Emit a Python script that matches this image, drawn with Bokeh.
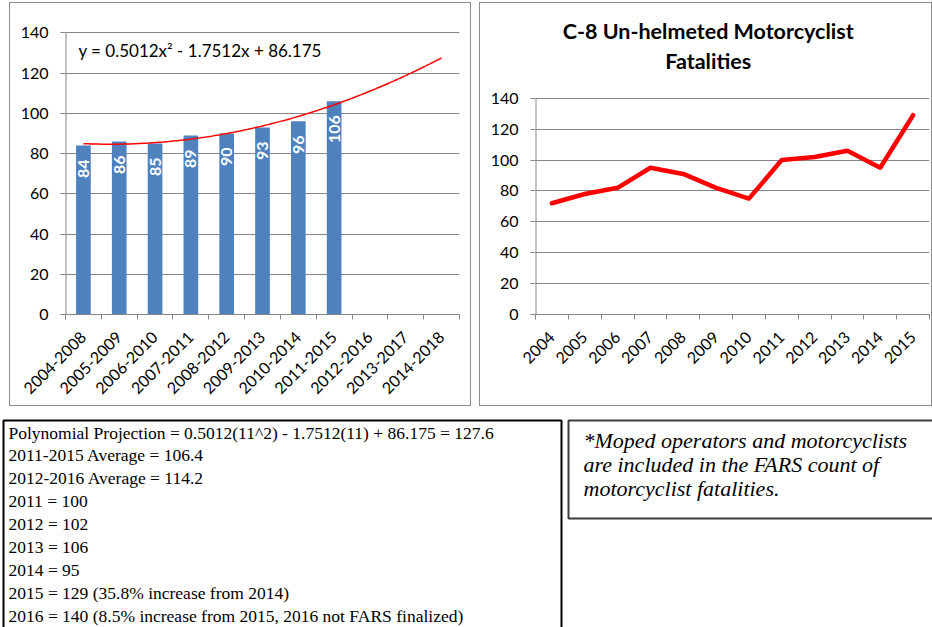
import numpy as np
from bokeh.plotting import figure
from bokeh.models import ColumnDataSource, FixedTicker, Range1d, Label
from bokeh.layouts import column, row
from bokeh.embed import file_html
from bokeh.resources import INLINE
from bokeh.core.properties import value

# ---------------- data ----------------
periods = ["2004-2008", "2005-2009", "2006-2010", "2007-2011", "2008-2012", "2009-2013",
           "2010-2014", "2011-2015", "2012-2016", "2013-2017", "2014-2018"]
period_avgs = [84, 86, 85, 89, 90, 93, 96, 106]
trend_coeffs = [0.5012, -1.7512, 86.175]          # y = a x^2 + b x + c (x = 1..11)
trend_span = [1, 11]
equation_text = "y = 0.5012x\u00b2 - 1.7512x + 86.175"

years = ["2004", "2005", "2006", "2007", "2008", "2009", "2010", "2011", "2012", "2013", "2014", "2015"]
unhelmeted = [72, 78, 82, 95, 91, 82, 75, 100, 102, 106, 95, 129]
right_title = ["C-8 Un-helmeted Motorcyclist", "Fatalities"]

y_ticks = [0, 20, 40, 60, 80, 100, 120, 140]
y_max = 140

notes_lines = [
    "Polynomial Projection = 0.5012(11^2) - 1.7512(11) + 86.175 = 127.6",
    "2011-2015 Average = 106.4",
    "2012-2016 Average = 114.2",
    "2011 = 100",
    "2012 = 102",
    "2013 = 106",
    "2014 = 95",
    "2015 = 129 (35.8% increase from 2014)",
    "2016 = 140 (8.5% increase from 2015, 2016 not FARS finalized)",
]
footnote_lines = [
    "*Moped operators and motorcyclists",
    "are included in the FARS count of",
    "motorcyclist fatalities.",
]

# ---------------- styles ----------------
FONT = "Lato"
SERIF = "Liberation Serif"
GRID = "#868686"
BORDER = "#8c8c8c"
BAR = "#4F81BD"
CHART_H = 402
FRAME_TOP = 9
FRAME_BOTTOM = 91


def style_axes(p, nx):
    p.xaxis.ticker = FixedTicker(ticks=[i + 0.5 for i in range(nx)],
                                 minor_ticks=list(range(nx + 1)))
    p.xaxis.major_tick_out = 0
    p.xaxis.major_tick_in = 0
    p.xaxis.minor_tick_out = 5
    p.xaxis.minor_tick_in = 0
    p.xaxis.minor_tick_line_color = GRID
    p.xaxis.axis_line_color = GRID
    p.xaxis.major_label_orientation = np.pi / 4
    p.xaxis.major_label_text_font = FONT
    p.xaxis.major_label_text_font_size = "16px"
    p.xaxis.major_label_text_color = "#000000"
    p.xaxis.major_label_standoff = 15
    p.yaxis.ticker = FixedTicker(ticks=y_ticks)
    p.yaxis.major_tick_out = 5
    p.yaxis.major_tick_in = 0
    p.yaxis.minor_tick_line_color = None
    p.yaxis.major_tick_line_color = GRID
    p.yaxis.axis_line_color = None
    p.yaxis.major_label_text_font = FONT
    p.yaxis.major_label_text_font_size = "16px"
    p.yaxis.major_label_text_color = "#000000"
    p.yaxis.major_label_standoff = 12
    p.xgrid.grid_line_color = None
    p.ygrid.grid_line_color = GRID
    p.outline_line_color = None
    p.background_fill_color = "white"
    p.border_fill_color = "white"
    # value axis line, drawn only over the 0..140 span
    p.line(x=[0, 0], y=[0, y_max], line_color=GRID, line_width=2)


# ---------------- left chart ----------------
nL = len(periods)
L = figure(width=460, height=CHART_H, x_range=Range1d(0, nL), y_range=Range1d(0, 150.1),
           output_backend="svg", toolbar_location=None,
           min_border_left=55, min_border_right=11,
           min_border_top=FRAME_TOP, min_border_bottom=FRAME_BOTTOM,
           margin=(3, 0, 1, 10), styles={"outline": "1px solid " + BORDER})
style_axes(L, nL)
L.xaxis.major_label_overrides = {i + 0.5: lab for i, lab in enumerate(periods)}

bar_src = ColumnDataSource(dict(
    x=[i + 0.5 for i in range(len(period_avgs))],
    top=period_avgs,
    label=[str(v) for v in period_avgs],
))
L.vbar(x="x", top="top", width=0.41, source=bar_src, fill_color=BAR, line_color=None)
L.text(x="x", y="top", text="label", source=bar_src, angle=np.pi / 2,
       text_align="right", text_baseline="middle", y_offset=14,
       text_color="white", text_font=value(FONT), text_font_style="bold",
       text_font_size="16px")

t = np.linspace(trend_span[0], trend_span[1], 200)
L.line(t - 0.5, np.polyval(trend_coeffs, t), line_color="#ff0000", line_width=1.5)

L.add_layout(Label(x=0.36, y=131.2, text=equation_text, text_font=FONT,
                   text_font_size="17px", text_baseline="middle", text_align="left",
                   text_color="#000000"))

# ---------------- right chart ----------------
nR = len(years)
R = figure(width=451, height=CHART_H, x_range=Range1d(0, nR), y_range=Range1d(0, 195.5),
           output_backend="svg", toolbar_location=None,
           min_border_left=55, min_border_right=2,
           min_border_top=FRAME_TOP, min_border_bottom=FRAME_BOTTOM,
           margin=(3, 0, 1, 10), styles={"outline": "1px solid " + BORDER})
style_axes(R, nR)
R.xaxis.major_label_overrides = {i + 0.5: lab for i, lab in enumerate(years)}

R.line(x=[i + 0.5 for i in range(nR)], y=unhelmeted, line_color="#ff0000",
       line_width=4.5, line_join="round", line_cap="round")

for txt, yy in zip(right_title, [183.8, 164.4]):
    R.add_layout(Label(x=5.26, y=yy, text=txt, text_font=FONT, text_font_style="bold",
                       text_font_size="21.5px", text_align="center", text_baseline="middle",
                       text_color="#000000"))

# ---------------- bottom text boxes ----------------
BH = 221
B = figure(width=932, height=BH, x_range=Range1d(0, 932), y_range=Range1d(BH, 0),
           output_backend="svg", toolbar_location=None,
           x_axis_location=None, y_axis_location=None,
           min_border=0)
B.xgrid.grid_line_color = None
B.ygrid.grid_line_color = None
B.outline_line_color = None
B.background_fill_color = "white"
B.border_fill_color = "white"

B.line(x=[3, 3, 561, 561], y=[BH, 14, 14, BH], line_color="black", line_width=2)
B.text(x=8, y=[26 + 22.9 * i for i in range(len(notes_lines))], text=notes_lines,
       text_font=value(SERIF), text_font_size="17.5px", text_baseline="middle",
       text_align="left", text_color="black")

B.line(x=[932, 568, 568, 932], y=[14, 14, 112, 112], line_color="#3a3a3a", line_width=2)
B.text(x=583, y=[34 + 24 * i for i in range(len(footnote_lines))], text=footnote_lines,
       text_font=value(SERIF), text_font_size="22px", text_font_style="italic",
       text_baseline="middle", text_align="left", text_color="black")

layout = column(row(L, R, spacing=0), B, spacing=0)

open("out.html", "w").write(file_html(layout, INLINE))
